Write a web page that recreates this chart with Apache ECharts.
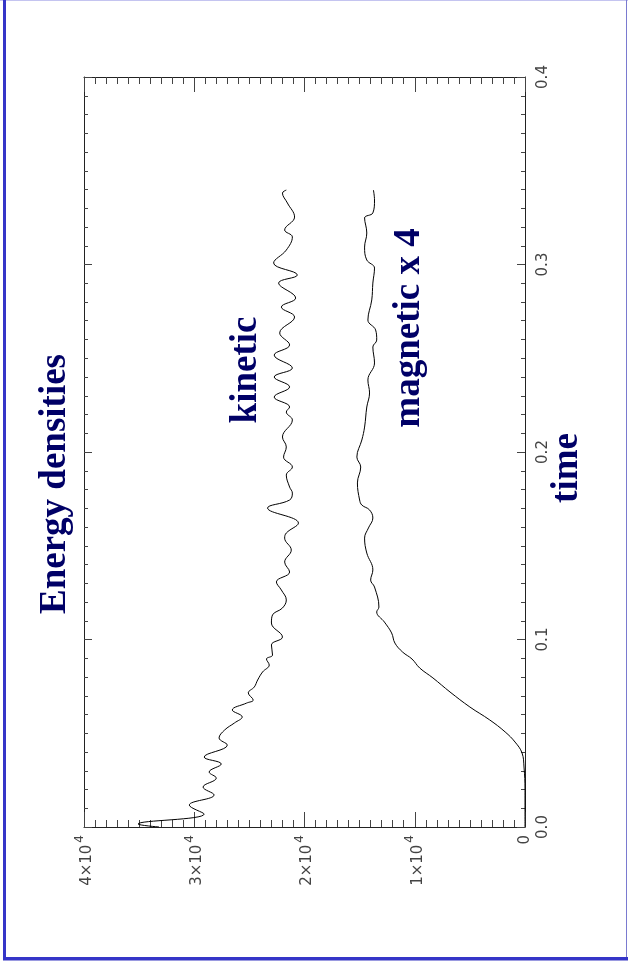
<!DOCTYPE html>
<html>
<head>
<meta charset="utf-8">
<script src="https://cdn.jsdelivr.net/npm/echarts@6/dist/echarts.min.js"></script>
<style>
  html, body { margin: 0; padding: 0; background: #fff; }
  #main { width: 628px; height: 965px; }
</style>
</head>
<body>
<div id="main"></div>
<script>
// kinetic energy density (time, energy)
var kineticTime = [0, 0.0016, 0.0069, 0.0117, 0.0171, 0.0213, 0.0261, 0.0293, 0.0336, 0.0373,
    0.0437, 0.0475, 0.0517, 0.0555, 0.0587, 0.0624, 0.0661, 0.0677, 0.0715, 0.0747,
    0.0784, 0.0827, 0.0864, 0.0896, 0.0917, 0.0971, 0.1013, 0.1088, 0.1131, 0.1168,
    0.1211, 0.1264, 0.1307, 0.136, 0.1413, 0.1477, 0.1541, 0.1568, 0.1621, 0.1701,
    0.1744, 0.1781, 0.1813, 0.1877, 0.192, 0.1973, 0.2027, 0.208, 0.2171, 0.2213,
    0.224, 0.2293, 0.2347, 0.24, 0.2448, 0.2517, 0.2571, 0.2635, 0.272, 0.2773,
    0.2821, 0.2901, 0.2944, 0.3008, 0.3077, 0.3147, 0.3184, 0.3253, 0.3328, 0.3381, 0.3397];
var kineticEnergy = [33200, 35100, 29100, 30450, 28200, 29200, 28000, 28650, 27550, 29100,
    27000, 27750, 27250, 26350, 25650, 26550, 25250, 24650, 25100, 24550,
    24250, 23800, 23200, 23450, 22900, 23000, 22000, 23000, 22900, 22000,
    21650, 22100, 22550, 21350, 21800, 21200, 21800, 21650, 20550, 23350,
    21350, 21100, 21350, 21650, 21100, 21900, 21650, 22000, 21100, 21650,
    21350, 22750, 21350, 22750, 21100, 22750, 21350, 22250, 20900, 22100,
    20800, 22350, 20650, 22800, 21650, 21100, 21800, 20900, 21550, 22000, 21650];

// magnetic energy density x 4
var magneticTime = [0, 0.0197, 0.032, 0.0395, 0.0453, 0.0507, 0.0571, 0.064, 0.072, 0.0795,
    0.0848, 0.0896, 0.0933, 0.0981, 0.1035, 0.1093, 0.1147, 0.1173, 0.128, 0.1317,
    0.1371, 0.1461, 0.1541, 0.1595, 0.1648, 0.1691, 0.1717, 0.1744, 0.1835, 0.192,
    0.1973, 0.2064, 0.2133, 0.224, 0.2315, 0.2384, 0.2475, 0.256, 0.2597, 0.2651,
    0.2704, 0.2811, 0.2901, 0.2981, 0.3024, 0.3093, 0.3168, 0.3248, 0.3275, 0.3344, 0.3397];
var magneticEnergy = [0, 0, 90, 270, 900, 1800, 3200, 5000, 6800, 8350,
    9550, 10250, 11100, 11800, 12100, 12750, 13450, 13250, 13650, 14000,
    13800, 14350, 14550, 14200, 13800, 14100, 14800, 15000, 15200, 14900,
    15250, 14800, 14550, 14350, 14100, 14250, 13650, 13800, 13450, 13550,
    14250, 13900, 13800, 13650, 14350, 14550, 14350, 14550, 13800, 13650, 13750];

var energyMax = 40000;
var energyStep = 10000;
var timeMax = 0.4;
var timeStep = 0.1;

function pairs(tt, ee) {
    var out = [];
    for (var i = 0; i < tt.length; i++) {
        out.push([ee[i], tt[i]]);
    }
    return out;
}

var navy = '#000066';
var serifBold = 'bold 37px "Liberation Serif", "Times New Roman", serif';
var tickFont = '"DejaVu Sans", sans-serif';
var tickColor = '#444';

var myChart = echarts.init(document.getElementById('main'));

// energy axis runs along the bottom (0 at right), time axis up the right side
var energyAxis = {
    type: 'value',
    inverse: true,
    min: 0,
    max: energyMax,
    interval: energyStep,
    axisLine: { show: true, onZero: false, lineStyle: { color: '#222', width: 1 } },
    axisTick: { show: true, inside: true, length: 15, lineStyle: { color: '#444' } },
    minorTick: { show: true, splitNumber: 10, length: 7, lineStyle: { color: '#444' } },
    splitLine: { show: false }
};

var timeAxis = {
    type: 'value',
    min: 0,
    max: timeMax,
    interval: timeStep,
    axisLine: { show: true, onZero: false, lineStyle: { color: '#222', width: 1 } },
    axisTick: { show: true, inside: true, length: 8, lineStyle: { color: '#444' } },
    minorTick: { show: true, splitNumber: 10, length: 4, lineStyle: { color: '#444' } },
    splitLine: { show: false }
};

var option = {
    backgroundColor: '#fff',
    animation: false,
    grid: {
        left: 84,
        right: 103,
        top: 77,
        bottom: 138,
        outerBoundsMode: 'none'
    },
    xAxis: [
        Object.assign({}, energyAxis, {
            position: 'bottom',
            axisLabel: {
                show: true,
                rotate: 90,
                margin: 8,
                showMinLabel: true,
                showMaxLabel: true,
                color: tickColor,
                fontFamily: tickFont,
                fontSize: 15,
                formatter: function (v) {
                    if (v === 0) return '{b|0}';
                    return '{b|' + (v / energyStep) + '×10}{s|4}';
                },
                rich: {
                    b: { fontSize: 15, fontFamily: tickFont, color: tickColor, verticalAlign: 'bottom' },
                    s: { fontSize: 12, fontFamily: tickFont, color: tickColor, verticalAlign: 'bottom', padding: [0, 0, 9, 2] }
                }
            }
        }),
        Object.assign({}, energyAxis, {
            position: 'top',
            axisLabel: { show: false }
        })
    ],
    yAxis: [
        Object.assign({}, timeAxis, {
            position: 'right',
            axisLabel: {
                show: true,
                rotate: 90,
                margin: 11,
                showMinLabel: true,
                showMaxLabel: true,
                color: tickColor,
                fontFamily: tickFont,
                fontSize: 15,
                formatter: function (v) { return v.toFixed(1); }
            }
        }),
        Object.assign({}, timeAxis, {
            position: 'left',
            axisLabel: { show: false }
        })
    ],
    series: [{
        name: 'kinetic',
        type: 'line',
        xAxisIndex: 0,
        yAxisIndex: 0,
        data: pairs(kineticTime, kineticEnergy),
        showSymbol: false,
        smooth: 0.4,
        lineStyle: { color: '#000', width: 1 },
        z: 3
    }, {
        name: 'magnetic x 4',
        type: 'line',
        xAxisIndex: 0,
        yAxisIndex: 0,
        data: pairs(magneticTime, magneticEnergy),
        showSymbol: false,
        smooth: 0.4,
        lineStyle: { color: '#000', width: 1 },
        z: 3
    }],
    graphic: [
        // page frame
        { type: 'rect', shape: { x: 0, y: 0, width: 628, height: 1 }, style: { fill: '#c4c4f0' } },
        { type: 'rect', shape: { x: 626, y: 0, width: 1, height: 961 }, style: { fill: '#7a7ad0' } },
        { type: 'rect', shape: { x: 3, y: 0, width: 3, height: 961 }, style: { fill: '#3535c8' } },
        { type: 'rect', shape: { x: 3, y: 957, width: 625, height: 3 }, style: { fill: '#3535c8' } },
        { type: 'rect', shape: { x: 3, y: 960, width: 625, height: 1 }, style: { fill: '#9a9ae0' } },
        // rotated texts
        { type: 'text', x: 55, y: 484, rotation: Math.PI / 2,
          style: { text: 'Energy densities', font: serifBold, fill: navy, align: 'center', verticalAlign: 'middle' } },
        { type: 'text', x: 246, y: 370, rotation: Math.PI / 2,
          style: { text: 'kinetic', font: serifBold, fill: navy, align: 'center', verticalAlign: 'middle' } },
        { type: 'text', x: 409, y: 328, rotation: Math.PI / 2,
          style: { text: 'magnetic x 4', font: serifBold, fill: navy, align: 'center', verticalAlign: 'middle' } },
        { type: 'text', x: 567, y: 468, rotation: Math.PI / 2,
          style: { text: 'time', font: serifBold, fill: navy, align: 'center', verticalAlign: 'middle' } }
    ]
};

myChart.setOption(option);
</script>
</body>
</html>
